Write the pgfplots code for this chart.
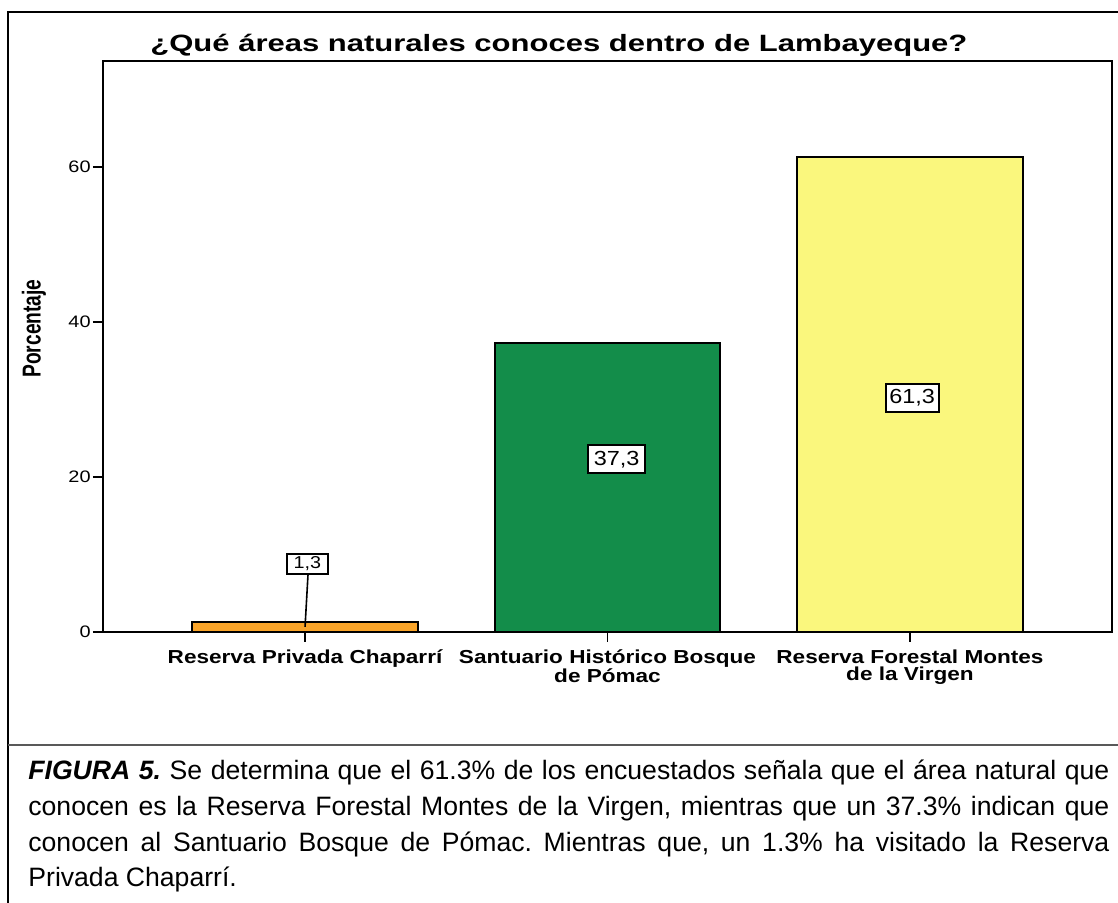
\documentclass[border=0pt]{standalone}
\usepackage{fontspec}
\setmainfont{Liberation Sans}
\newfontfamily\chartfont{Liberation Sans}[FakeStretch=1.2]
\newfontfamily\numfont{Liberation Sans}[FakeStretch=1.15]
\usepackage{graphicx}
\usepackage{pgfplots}
\pgfplotsset{compat=1.18}
\definecolor{barorange}{RGB}{249,164,41}
\definecolor{bargreen}{RGB}{19,141,74}
\definecolor{baryellow}{RGB}{250,247,125}
\frenchspacing
\begin{document}
\begin{tikzpicture}[x=0.5pt,y=0.5pt]
\path[use as bounding box] (0,0) rectangle (1118,903);
% outer frame
\draw[line width=1pt] (8,0) -- (8,891) -- (1118,891);
\draw[line width=0.6pt, black!65] (8,158) -- (1118,158);
% title
\node[anchor=base west, inner sep=0pt] at (150,851) {\resizebox{408.5pt}{\height}{\bfseries\fontsize{11.8}{13}\selectfont ¿Qué áreas naturales conoces dentro de Lambayeque?}};
% y label
\node[rotate=90, inner sep=0pt, font=\bfseries\fontsize{9.6}{10}\selectfont] at (34,574.5) {\scalebox{1}[1.35]{Porcentaje}};
\begin{axis}[
  at={(51.5pt,135.5pt)}, anchor=south west,
  width=504.5pt, height=285.5pt, scale only axis,
  xmin=-0.668, xmax=2.668, ymin=0, ymax=73.7,
  ybar, bar shift=0pt, bar width=0.747,
  clip=false,
  axis line style={line width=1pt},
  tick align=outside, tick pos=left,
  major tick length=5pt,
  every tick/.style={black, line width=0.9pt},
  xtick={0,1,2},
  xticklabels={Reserva Privada Chaparrí, Santuario Histórico Bosque\\de Pómac, Reserva Forestal Montes\\de la Virgen},
  x tick label style={font=\chartfont\bfseries\fontsize{9.4}{8.5}\selectfont, align=center, inner sep=0pt, yshift=-3.5pt},
  ytick={0,20,40,60},
  y tick label style={font=\chartfont\fontsize{8.3}{9}\selectfont, inner sep=1pt},
  /pgf/number format/assume math mode=true,
]
\addplot[fill=barorange, draw=black, line width=1pt] coordinates {(0,1.3)};
\addplot[fill=bargreen, draw=black, line width=1pt] coordinates {(1,37.3)};
\addplot[fill=baryellow, draw=black, line width=1pt] coordinates {(2,61.3)};
\draw[line width=0.8pt] (axis cs:0.0099,7.48) -- (axis cs:0,0.65);
\node[draw, line width=1pt, fill=white, inner sep=0pt, minimum width=20.5pt, minimum height=10pt, font=\numfont\fontsize{8.6}{9}\selectfont] at (axis cs:0.008,8.77) {1,3};
\node[draw, line width=1pt, fill=white, inner sep=0pt, minimum width=28.5pt, minimum height=14pt, font=\numfont\fontsize{10.2}{11}\selectfont] at (axis cs:1.03,22.3) {37,3};
\node[draw, line width=1pt, fill=white, inner sep=0pt, minimum width=26.5pt, minimum height=14pt, font=\numfont\fontsize{10.2}{11}\selectfont] at (axis cs:2.007,30.26) {61,3};
\end{axis}
% caption
\begin{scope}[every node/.style={anchor=base west, inner sep=0pt, font=\fontsize{13.3}{15}\selectfont}]
\node at (28,123) {\makebox[540.5pt][s]{\textbf{\textit{FIGURA 5.}} Se determina que el 61.3\% de los encuestados señala que el área natural que}};
\node at (28,87) {\makebox[540.5pt][s]{conocen es la Reserva Forestal Montes de la Virgen, mientras que un 37.3\% indican que}};
\node at (28,51) {\makebox[540.5pt][s]{conocen al Santuario Bosque de Pómac. Mientras que, un 1.3\% ha visitado la Reserva}};
\node at (28,16) {Privada Chaparrí.};
\end{scope}
\end{tikzpicture}
\end{document}
